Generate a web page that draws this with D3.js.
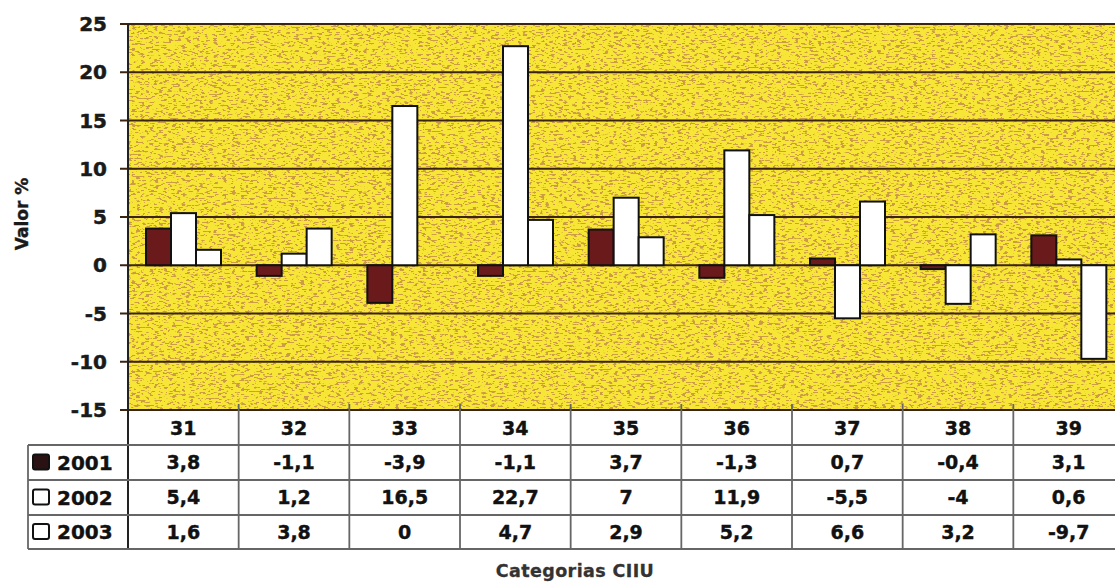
<!DOCTYPE html>
<html lang="es">
<head>
<meta charset="utf-8">
<script src="https://cdn.jsdelivr.net/npm/d3@7"></script>
<style>
  body { margin: 0; background: #fff; }
  text { font-family: "DejaVu Sans", "Liberation Sans", Arial, sans-serif; font-weight: bold; }
</style>
</head>
<body>
<div id="chart"></div>
<script>
  const width = 1115
  const height = 583

  // data
  const categories = ["31", "32", "33", "34", "35", "36", "37", "38", "39"]
  const years = ["2001", "2002", "2003"]
  const v2001 = [3.8, -1.1, -3.9, -1.1, 3.7, -1.3, 0.7, -0.4, 3.1]
  const v2002 = [5.4, 1.2, 16.5, 22.7, 7, 11.9, -5.5, -4, 0.6]
  const v2003 = [1.6, 3.8, 0, 4.7, 2.9, 5.2, 6.6, 3.2, -9.7]
  const yTicks = [25, 20, 15, 10, 5, 0, -5, -10, -15]

  const series = [v2001, v2002, v2003]
  const fills = ["#6b1a1c", "#ffffff", "#ffffff"]
  const legendFills = ["#2a1214", "#ffffff", "#ffffff"]

  const plot = {left: 128, right: 1124, top: 24, bottom: 410}
  const rowY = [410, 445, 480, 515, 549]

  const fmt = v => String(v).replace(".", ",")

  const svg = d3.select("#chart").append("svg")
      .attr("width", width)
      .attr("height", height)

  const x = d3.scaleBand()
      .domain(categories)
      .range([plot.left, plot.right])

  const x1 = d3.scaleBand()
      .domain(years)
      .range([18, 93])

  const y = d3.scaleLinear()
      .domain([-15, 25])
      .range([plot.bottom, plot.top])

  // slightly heavier text
  function heavy(sel, size, col, sw) {
    return sel.attr("font-size", size)
      .attr("fill", col)
      .attr("stroke", col)
      .attr("stroke-width", sw)
      .attr("stroke-linejoin", "round")
  }

  ////////////////////////// background //////////////////////////
  const defs = svg.append("defs")
  const f = defs.append("filter").attr("id", "speck")
      .attr("x", 0).attr("y", 0).attr("width", 1).attr("height", 1)
  f.append("feTurbulence")
      .attr("type", "fractalNoise")
      .attr("baseFrequency", "0.22 0.55")
      .attr("numOctaves", 2)
      .attr("seed", 7)
  f.append("feColorMatrix")
      .attr("type", "matrix")
      .attr("values", "0 0 0 0 0.6  0 0 0 0 0.33  0 0 0 0 0.06  16 0 0 0 -9.0")

  defs.append("clipPath").attr("id", "plotclip")
    .append("rect")
      .attr("x", plot.left).attr("y", plot.top)
      .attr("width", width - plot.left).attr("height", plot.bottom - plot.top)

  svg.append("rect")
      .attr("x", plot.left).attr("y", plot.top)
      .attr("width", width - plot.left).attr("height", plot.bottom - plot.top)
      .attr("fill", "#f8e636")
  svg.append("rect")
      .attr("x", plot.left).attr("y", plot.top)
      .attr("width", width - plot.left).attr("height", plot.bottom - plot.top)
      .attr("fill", "#000")
      .attr("filter", "url(#speck)")

  ////////////////////////// grid + axis //////////////////////////
  svg.append("g")
      .selectAll("line")
      .data(yTicks)
      .join("line")
      .attr("x1", plot.left - 8)
      .attr("x2", width)
      .attr("y1", d => y(d))
      .attr("y2", d => y(d))
      .attr("stroke", "#3b2410")
      .attr("stroke-width", 2)

  heavy(svg.append("g")
      .selectAll("text")
      .data(yTicks)
      .join("text")
      .attr("x", 107)
      .attr("y", d => y(d))
      .attr("dy", "0.36em")
      .attr("text-anchor", "end")
      .text(d => d), 20, "#1a1a1a", 0.5)

  heavy(svg.append("text")
      .attr("transform", "translate(28,214) rotate(-90)")
      .attr("text-anchor", "middle")
      .text("Valor %"), 17, "#1a1a1a", 0.4)

  ////////////////////////// bars //////////////////////////
  const bars = svg.append("g").attr("clip-path", "url(#plotclip)")
  series.forEach((vals, s) => {
    bars.append("g")
      .selectAll("rect")
      .data(vals)
      .join("rect")
      .attr("x", (d, i) => x(categories[i]) + x1(years[s]))
      .attr("width", x1.bandwidth())
      .attr("y", d => y(Math.max(0, d)))
      .attr("height", d => Math.abs(y(d) - y(0)))
      .attr("fill", fills[s])
      .attr("stroke", "#111")
      .attr("stroke-width", 2)
  })

  svg.append("line")
      .attr("x1", plot.left).attr("x2", plot.left)
      .attr("y1", plot.top).attr("y2", rowY[4])
      .attr("stroke", "#222")
      .attr("stroke-width", 2)

  ////////////////////////// data table //////////////////////////
  const table = svg.append("g")

  table.selectAll("line.h")
      .data(rowY.slice(1))
      .join("line")
      .attr("class", "h")
      .attr("x1", 28).attr("x2", width)
      .attr("y1", d => d).attr("y2", d => d)
      .attr("stroke", "#666")
      .attr("stroke-width", 1.8)

  table.append("line")
      .attr("x1", 28).attr("x2", 28)
      .attr("y1", rowY[1]).attr("y2", rowY[4])
      .attr("stroke", "#666")
      .attr("stroke-width", 1.8)

  table.selectAll("line.v")
      .data(categories.slice(1))
      .join("line")
      .attr("class", "v")
      .attr("x1", d => x(d)).attr("x2", d => x(d))
      .attr("y1", plot.bottom - 6).attr("y2", rowY[4])
      .attr("stroke", "#666")
      .attr("stroke-width", 1.8)

  heavy(table.selectAll("text.cat")
      .data(categories)
      .join("text")
      .attr("class", "cat")
      .attr("x", d => x(d) + x.bandwidth() / 2)
      .attr("y", (rowY[0] + rowY[1]) / 2 + 1)
      .attr("dy", "0.36em")
      .attr("text-anchor", "middle")
      .text(d => d), 19, "#111", 0.4)

  series.forEach((vals, s) => {
    const cy = (rowY[s + 1] + rowY[s + 2]) / 2
    table.append("rect")
        .attr("x", 33).attr("y", cy - 8)
        .attr("width", 16).attr("height", 15)
        .attr("rx", 2)
        .attr("fill", legendFills[s])
        .attr("stroke", "#111")
        .attr("stroke-width", 2)
    heavy(table.append("text")
        .attr("x", 57).attr("y", cy)
        .attr("dy", "0.36em")
        .text(years[s]), 20, "#111", 0.4)
    heavy(table.append("g")
      .selectAll("text")
      .data(vals)
      .join("text")
      .attr("x", (d, i) => x(categories[i]) + x.bandwidth() / 2)
      .attr("y", cy)
      .attr("dy", "0.36em")
      .attr("text-anchor", "middle")
      .text(d => fmt(d)), 19, "#111", 0.4)
  })

  heavy(svg.append("text")
      .attr("x", 575)
      .attr("y", 571)
      .attr("dy", "0.36em")
      .attr("text-anchor", "middle")
      .attr("letter-spacing", 0.4)
      .text("Categorias CIIU"), 17.5, "#333", 0.3)
</script>
</body>
</html>
